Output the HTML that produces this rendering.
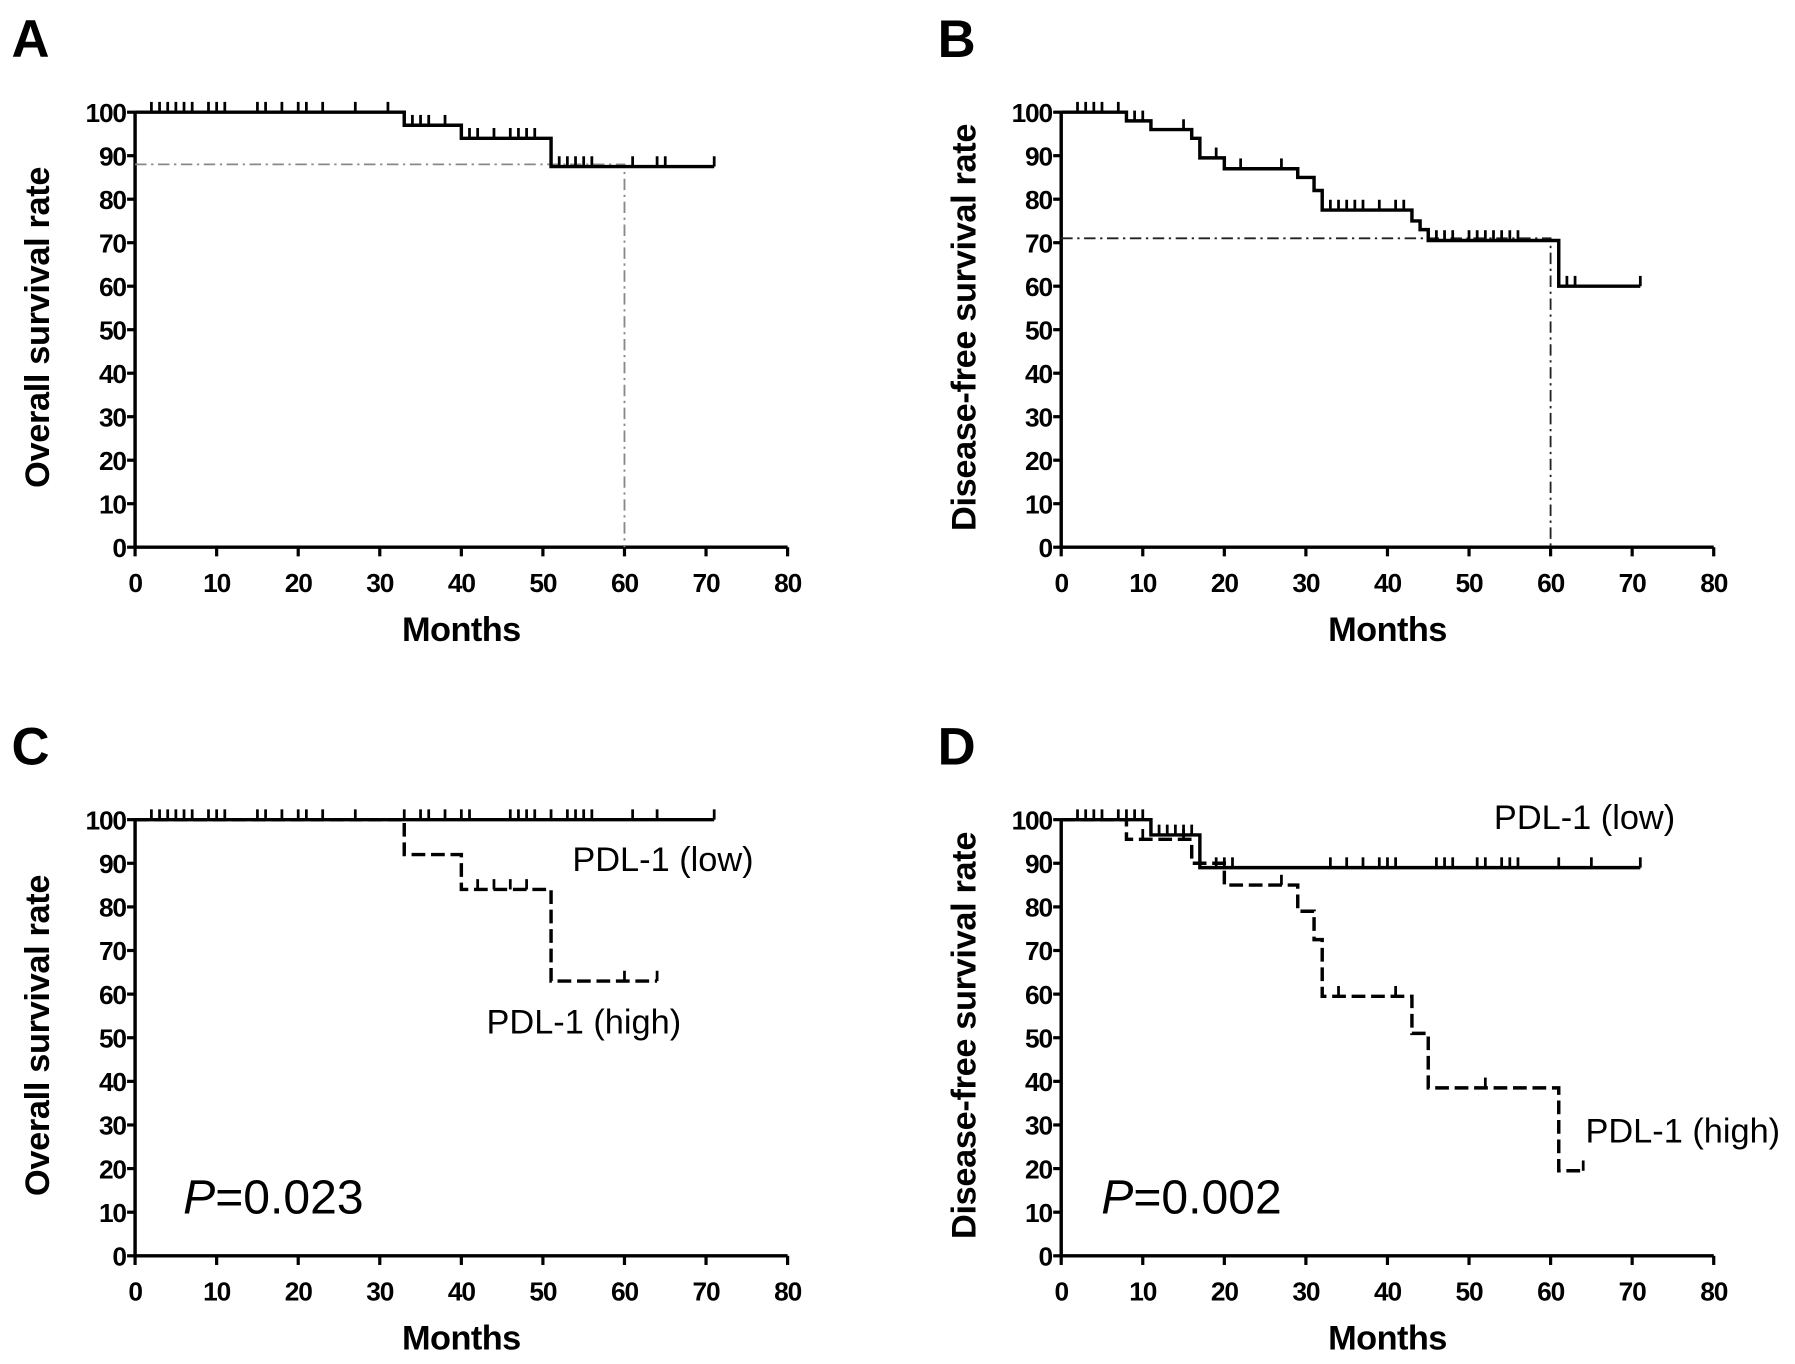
<!DOCTYPE html>
<html><head><meta charset="utf-8"><style>
html,body{margin:0;padding:0;background:#fff;}
svg{display:block;}
text{font-family:"Liberation Sans",Arial,sans-serif;}
</style></head><body>
<svg id="fig" width="1795" height="1364" viewBox="0 0 1568 1191.5"></svg>
<script>
const xTicks=[0,10,20,30,40,50,60,70,80];
const yTicks=[0,10,20,30,40,50,60,70,80,90,100];
// Panel A
const aTimes=[0,33,40,51,71];
const aSurv=[100,97,94,87.5,87.5];
const aCens=[[2,100],[3,100],[4,100],[5,100],[6,100],[7,100],[9,100],[10,100],[11,100],[15,100],[16,100],[18,100],[20,100],[21,100],[23,100],[27,100],[31,100],[34,97],[35,97],[36,97],[38,97],[41,94],[42,94],[44,94],[46,94],[47,94],[48,94],[49,94],[52,87.5],[53,87.5],[54,87.5],[55,87.5],[56,87.5],[61,87.5],[64,87.5],[65,87.5],[71,87.5]];
const aRef=[60,88];
// Panel B
const bTimes=[0,8,11,16,17,20,29,31,32,43,44,45,61,71];
const bSurv=[100,98,96,94,89.5,87,85,82,77.5,75,73,70.5,60,60];
const bCens=[[2,100],[3,100],[4,100],[5,100],[7,100],[9,98],[10,98],[15,96],[19,89.5],[22,87],[27,87],[33,77.5],[34,77.5],[35,77.5],[36,77.5],[37,77.5],[39,77.5],[41,77.5],[42,77.5],[46,70.5],[47,70.5],[48,70.5],[50,70.5],[51,70.5],[52,70.5],[53,70.5],[54,70.5],[55,70.5],[56,70.5],[62,60],[63,60],[71,60]];
const bRef=[60,71];
// Panel C
const cLowTimes=[0,71];
const cLowSurv=[100,100];
const cLowCens=[2,3,4,5,6,7,9,10,11,15,16,18,20,21,23,27,33,35,36,38,40,41,46,47,48,49,51,53,54,55,56,61,64,71];
const cHighTimes=[0,33,40,51,64];
const cHighSurv=[100,92,84,63,63];
const cHighCens=[[42,84],[44,84],[46,84],[48,84],[60,63],[64,63]];
// Panel D
const dLowTimes=[0,11,17,71];
const dLowSurv=[100,96.5,89,89];
const dLowCens=[[2,100],[3,100],[4,100],[5,100],[7,100],[8,100],[9,100],[10,100],[12,96.5],[13,96.5],[14,96.5],[15,96.5],[16,96.5],[19,89],[20,89],[21,89],[33,89],[35,89],[37,89],[39,89],[40,89],[41,89],[46,89],[47,89],[48,89],[51,89],[52,89],[54,89],[55,89],[56,89],[61,89],[65,89],[71,89]];
const dHighTimes=[0,8,16,20,29,31,32,43,45,61,64];
const dHighSurv=[100,95.5,90,85,79,72.5,59.5,51,38.5,19.5,19.5];
const dHighCens=[[10,95.5],[15,95.5],[27,85],[34,59.5],[41,59.5],[52,38.5],[64,19.5]];

const NS='http://www.w3.org/2000/svg';
const svg=document.getElementById('fig');
function mk(tag,attrs,parent){const e=document.createElementNS(NS,tag);for(const k in attrs)e.setAttribute(k,attrs[k]);(parent||svg).appendChild(e);return e;}

function panel(id,x0,x1,y100,y0,letter,ytitle){
  const g=mk('g',{});
  
  
  const X=v=>x0+(x1-x0)*v/80, Y=v=>y0+(y100-y0)*v/100;
  const L=mk('text',{x:x0-108,y:y100-48,'font-size':46,'font-weight':'bold'},g);L.textContent=letter;
  
  
  const ax=mk('path',{d:`M${x0} ${y100} V${y0} H${x1}`,stroke:'#000','stroke-width':3,fill:'none'},g);
  
  
  yTicks.forEach(t=>{
    mk('line',{x1:x0-7,x2:x0,y1:Y(t),y2:Y(t),stroke:'#000','stroke-width':2.8},g);
    const tx=mk('text',{x:x0-8,y:Y(t)+8.5,'font-size':23,'font-weight':'bold','text-anchor':'end','letter-spacing':-1},g);tx.textContent=t;
    
    
  });
  xTicks.forEach(t=>{
    mk('line',{x1:X(t),x2:X(t),y1:y0,y2:y0+8,stroke:'#000','stroke-width':2.8},g);
    const tx=mk('text',{x:X(t),y:y0+39,'font-size':23,'font-weight':'bold','text-anchor':'middle','letter-spacing':-1},g);tx.textContent=t;
    
    
  });
  const xt=mk('text',{x:(x0+x1)/2,y:y0+82,'font-size':30,'font-weight':'bold','text-anchor':'middle','letter-spacing':-0.5},g);xt.textContent='Months';
  
  
  const cy=(y0+y100)/2-2;
  const tx0=x0-75;
  const yt=mk('text',{x:tx0,y:cy,'font-size':30,'font-weight':'bold','text-anchor':'middle','letter-spacing':-0.3,transform:`rotate(-90 ${tx0} ${cy})`},g);yt.textContent=ytitle;
  
  
  return {g,X,Y};
}
function curve(p,times,surv,dash,name){
  let d=`M${p.X(times[0])} ${p.Y(surv[0])}`;
  for(let i=1;i<times.length;i++){d+=` H${p.X(times[i])} V${p.Y(surv[i])}`;}
  const e=mk('path',{d,stroke:'#000','stroke-width':3,fill:'none','stroke-dasharray':dash||'none'},p.g);
  
  
}
function cens(p,pts,name){
  pts.forEach(c=>{
    const e=mk('line',{x1:p.X(c[0]),x2:p.X(c[0]),y1:p.Y(c[1]),y2:p.Y(c[1])-9,stroke:'#000','stroke-width':2.4},p.g);
    
    
  });
}
function ref(p,r,color){
  const e=mk('path',{d:`M${p.X(0)} ${p.Y(r[1])} H${p.X(r[0])} V${p.Y(0)}`,stroke:color,'stroke-width':1.6,fill:'none','stroke-dasharray':'10 4 2 4'},p.g);
  
  
}
function label(p,x,y,txt,size,name,italicP){
  const t=mk('text',{x,y,'font-size':size},p.g);
  if(italicP){const s=mk('tspan',{'font-style':'italic'},t);s.textContent='P';const r=mk('tspan',{},t);r.textContent=txt;}
  else t.textContent=txt;
  
  
}

const A=panel('a',118,688,98,478,'A','Overall survival rate');
ref(A,aRef,'#888');curve(A,aTimes,aSurv,null,'survival-curve');cens(A,aCens,'censor-mark');
const B=panel('b',927,1497,98,478,'B','Disease-free survival rate');
ref(B,bRef,'#222');curve(B,bTimes,bSurv,null,'survival-curve');cens(B,bCens,'censor-mark');
const C=panel('c',118,688,716,1097,'C','Overall survival rate');
curve(C,cLowTimes,cLowSurv,null,'pdl1-low-curve');cens(C,cLowCens.map(t=>[t,100]),'censor-mark-low');
curve(C,cHighTimes,cHighSurv,'12 5','pdl1-high-curve');cens(C,cHighCens,'censor-mark-high');
label(C,500,761,'PDL-1 (low)',30,'pdl1-low-label');
label(C,425,903,'PDL-1 (high)',30,'pdl1-high-label');
label(C,160,1060,'=0.023',42,'p-value',true);
const D=panel('d',927,1497,716,1097,'D','Disease-free survival rate');
curve(D,dLowTimes,dLowSurv,null,'pdl1-low-curve');cens(D,dLowCens,'censor-mark-low');
curve(D,dHighTimes,dHighSurv,'12 5','pdl1-high-curve');cens(D,dHighCens,'censor-mark-high');
label(D,1305,724,'PDL-1 (low)',30,'pdl1-low-label');
label(D,1385,998,'PDL-1 (high)',30,'pdl1-high-label');
label(D,962,1060,'=0.002',42,'p-value',true);
</script>
</body></html>
